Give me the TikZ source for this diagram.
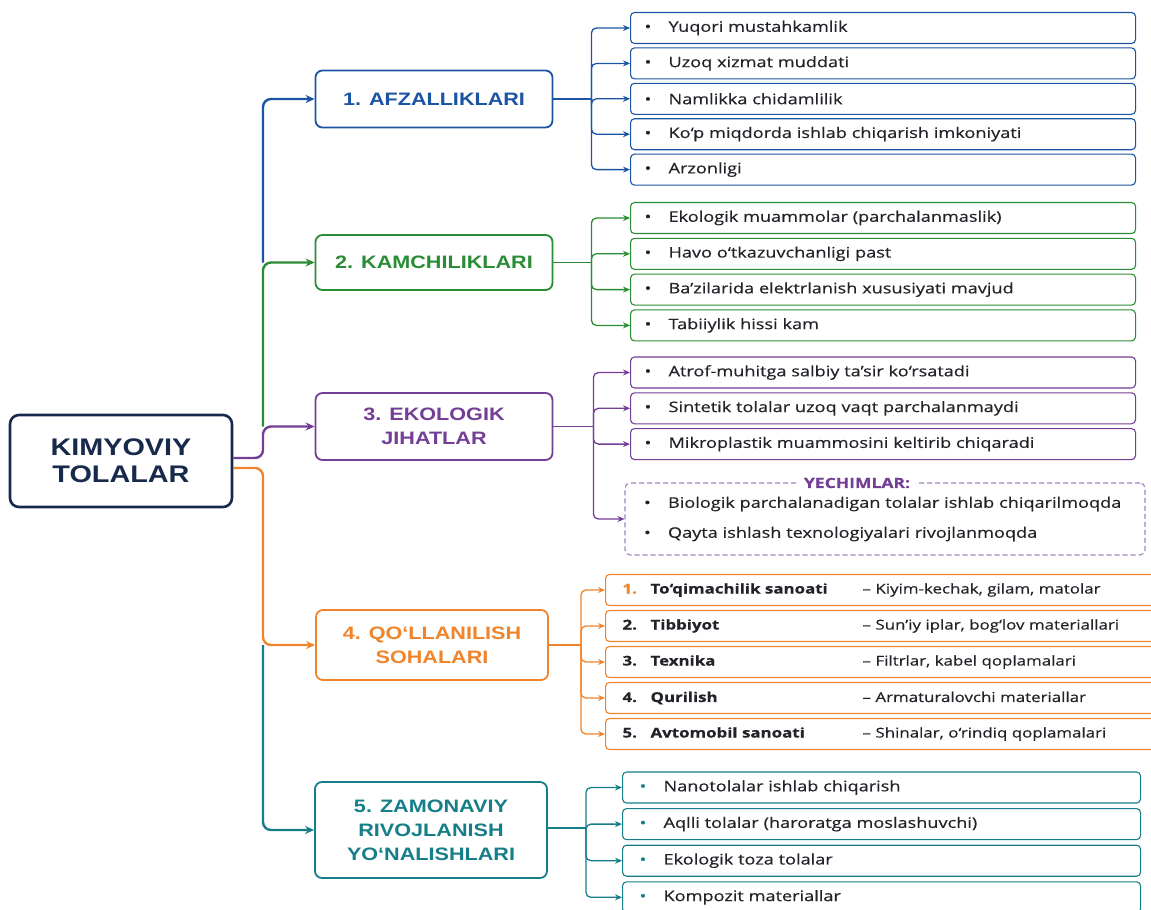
\documentclass[tikz,border=0pt]{standalone}
\usepackage{fontspec}
\usetikzlibrary{arrows.meta,calc}
\newfontfamily\headfont[FakeStretch=1.2]{Liberation Sans}
\newfontfamily\leaffont[FakeStretch=1.25,FakeBold=0.4]{Open Sans}
\definecolor{kNavy}{RGB}{24,42,76}
\definecolor{kBlue}{RGB}{28,84,164}
\definecolor{kGreen}{RGB}{42,140,52}
\definecolor{kPurple}{RGB}{116,62,150}
\definecolor{kOrange}{RGB}{240,132,42}
\definecolor{kTeal}{RGB}{22,126,136}
\definecolor{kText}{RGB}{34,34,40}
\newcommand{\blt}[1][kText]{\makebox[24pt][l]{\textcolor{#1}{\textbullet}}}
\tikzset{
  rootbox/.style={draw=kNavy, line width=2.6pt, rounded corners=9pt, minimum width=222pt,
    minimum height=92pt, align=center, text=kNavy, fill=white,
    font=\headfont\bfseries\fontsize{24}{27}\selectfont},
  topic/.style={draw=#1, text=#1, line width=1.8pt, rounded corners=7pt, align=center,
    fill=white, font=\headfont\bfseries\fontsize{18}{24}\selectfont},
  leaf/.style={draw=#1, line width=1.1pt, rounded corners=4pt, anchor=west, minimum height=31pt,
    inner xsep=14pt, text width=477pt, align=left, text=kText, fill=white,
    font=\leaffont\fontsize{14.5}{17}\selectfont},
  trunk/.style={draw=#1, line width=2.4pt, rounded corners=8pt, -{Stealth[length=9pt,width=8pt]}},
  twig/.style={draw=#1, line width=1.3pt, rounded corners=5pt, -{Stealth[length=7pt,width=6pt]}},
}
\begin{document}
\begin{tikzpicture}[x=1pt,y=-1pt]
  \useasboundingbox (0,0) rectangle (1151,910);
  \clip (0,0) rectangle (1151,910);

  % main topic and the five branches
  \node[rootbox] (root) at (121,461) {KIMYOVIY\\TOLALAR};
  \node[topic=kBlue, minimum width=237pt, minimum height=57pt] (afz) at (434,99) {1. AFZALLIKLARI};
  \node[topic=kGreen, minimum width=237pt, minimum height=55pt] (kam) at (434,262.5) {2. KAMCHILIKLARI};
  \node[topic=kPurple, minimum width=237pt, minimum height=67pt] (eko) at (434,426.5) {3. EKOLOGIK\\JIHATLAR};
  \node[topic=kOrange, minimum width=232pt, minimum height=70pt] (qol) at (432,645) {4. QO‘LLANILISH\\SOHALARI};
  \node[topic=kTeal, minimum width=232pt, minimum height=96pt] (zam) at (431,830) {5. ZAMONAVIY\\RIVOJLANISH\\YO‘NALISHLARI};

  % trunk
  \coordinate (trk) at (263,0);
  \coordinate (p0) at ($(root.east)+(0,-3)$);
  \coordinate (o0) at ($(root.east)+(0,7)$);
  \draw[trunk=kBlue] (trk |- kam.west) |- (afz.west);
  \draw[trunk=kGreen] (trk |- eko.west) |- (kam.west);
  \draw[trunk=kPurple] (p0) -- (p0 -| trk) |- (eko.west);
  \draw[trunk=kOrange] (o0) -- (o0 -| trk) |- (qol.west);
  \draw[trunk=kTeal] (trk |- qol.west) |- (zam.west);

  % 1. advantages
  \coordinate (bA) at ($(afz.east)+(38,0)$);
  \draw[kBlue, line width=1.3pt] (afz.east) -- (bA);
  \foreach \txt [count=\i] in {Yuqori mustahkamlik, Uzoq xizmat muddati, Namlikka chidamlilik,
      Ko‘p miqdorda ishlab chiqarish imkoniyati, Arzonligi} {
    \node[leaf=kBlue] (a\i) at (630,{28+35.4*(\i-1)}) {\blt\txt};
    \draw[twig=kBlue] (bA) |- (a\i.west);
  }

  % 2. drawbacks
  \coordinate (bB) at ($(kam.east)+(38,0)$);
  \draw[kGreen, line width=1.3pt] (kam.east) -- (bB);
  \foreach \txt [count=\i] in {Ekologik muammolar (parchalanmaslik), Havo o‘tkazuvchanligi past,
      Ba’zilarida elektrlanish xususiyati mavjud, Tabiiylik hissi kam} {
    \node[leaf=kGreen] (b\i) at (630,{218+35.8*(\i-1)}) {\blt\txt};
    \draw[twig=kGreen] (bB) |- (b\i.west);
  }

  % 3. ecology
  \coordinate (bC) at ($(eko.east)+(40,0)$);
  \draw[kPurple, line width=1.3pt] (eko.east) -- (bC);
  \foreach \txt [count=\i] in {Atrof-muhitga salbiy ta’sir ko‘rsatadi, Sintetik tolalar uzoq vaqt parchalanmaydi,
      Mikroplastik muammosini keltirib chiqaradi} {
    \node[leaf=kPurple] (c\i) at (630,{372.5+35.8*(\i-1)}) {\blt\txt};
    \draw[twig=kPurple] (bC) |- (c\i.west);
  }
  \node[draw=kPurple!65, dash pattern=on 5pt off 3pt, line width=1.1pt, rounded corners=5pt,
    minimum width=520pt, minimum height=72pt, inner xsep=19pt, text width=482pt, align=left,
    text=kText, font=\leaffont\fontsize{14.5}{30}\selectfont] (yech) at (885,519)
    {\blt Biologik parchalanadigan tolalar ishlab chiqarilmoqda\\\blt Qayta ishlash texnologiyalari rivojlanmoqda};
  \node[fill=white, text=kPurple, inner xsep=6pt, inner ysep=1pt,
    font=\leaffont\bfseries\fontsize{14}{16}\selectfont] (yechlbl) at (857,483) {YECHIMLAR:};
  \draw[twig=kPurple] (bC) |- (yech.west);

  % 4. fields of use
  \coordinate (bD) at ($(qol.east)+(32,0)$);
  \draw[kOrange, line width=1.3pt] (qol.east) -- (bD);
  \foreach \n/\ttl/\dsc [count=\i] in {1./To‘qimachilik sanoati/{Kiyim-kechak, gilam, matolar},
      2./Tibbiyot/{Sun’iy iplar, bog‘lov materiallari}, 3./Texnika/{Filtrlar, kabel qoplamalari},
      4./Qurilish/{Armaturalovchi materiallar}, 5./Avtomobil sanoati/{Shinalar, o‘rindiq qoplamalari}} {
    \node[leaf=kOrange, inner xsep=17pt, text width=526pt, font=\leaffont\fontsize{13.5}{16}\selectfont]
      (d\i) at (605,{590+36*(\i-1)})
      {\makebox[28pt][l]{\bfseries\ifnum\i=1 \color{kOrange}\fi\n}\makebox[212pt][l]{\bfseries\ttl}– \dsc};
    \draw[twig=kOrange] (bD) |- (d\i.west);
  }

  % 5. modern trends
  \coordinate (bE) at ($(zam.east)+(38,-2)$);
  \draw[kTeal, line width=1.3pt] ($(zam.east)+(0,-2)$) -- (bE);
  \foreach \txt [count=\i] in {Nanotolalar ishlab chiqarish, Aqlli tolalar (haroratga moslashuvchi),
      Ekologik toza tolalar, Kompozit materiallar} {
    \node[leaf=kTeal, inner xsep=17pt, text width=484pt] (e\i) at (622,{787.5+36.6*(\i-1)}) {\blt[kTeal]\txt};
    \draw[twig=kTeal] (bE) |- (e\i.west);
  }
\end{tikzpicture}
\end{document}
